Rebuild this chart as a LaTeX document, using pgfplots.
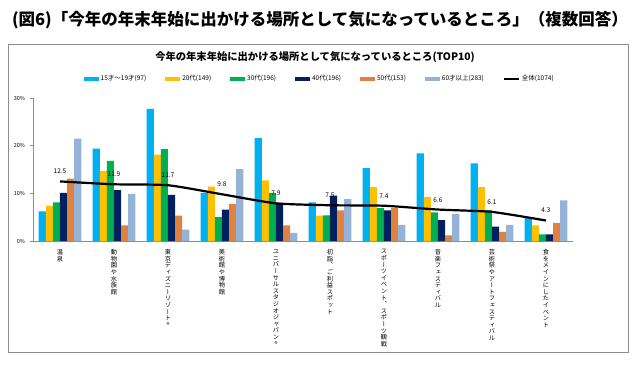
\documentclass[border=0pt]{standalone}
\usepackage{fontspec}
\setmainfont{Noto Sans CJK JP}
\newfontfamily\vjp[RawFeature=+vert]{Noto Sans CJK JP}
\usepackage{pgfplots}
\pgfplotsset{compat=1.18}
\definecolor{cA}{HTML}{00B0F0}
\definecolor{cB}{HTML}{FFC000}
\definecolor{cC}{HTML}{00B050}
\definecolor{cD}{HTML}{002060}
\definecolor{cE}{HTML}{E0823F}
\definecolor{cF}{HTML}{95B3D7}
\definecolor{axg}{HTML}{8C8C8C}
\makeatletter
\def\tate#1{\vtop{\baselineskip=6.6pt\lineskiplimit=-20pt\tate@i#1\relax}}
\def\tate@i#1{\ifx#1\relax\else\hbox to 7pt{\hss#1\hss}\expandafter\tate@i\fi}
\makeatother
\pgfplotsset{
  barimg/.style={legend image code/.code={\fill[##1] (0pt,-2pt) rectangle (15pt,2pt);}},
}
\begin{document}
\begin{tikzpicture}[x=1pt,y=1pt]
\path[use as bounding box] (0,0) rectangle (643,365);
\node[font=\fontsize{16.5}{18}\selectfont\bfseries] at (320,345) {(図6)「今年の年末年始に出かける場所として気になっているところ」（複数回答）};
\draw[axg, line width=0.8pt] (8,13) rectangle (628,321);
\node[font=\fontsize{10.3}{12}\selectfont\bfseries] at (315,308) {今年の年末年始に出かける場所として気になっているところ(TOP10)};
\begin{axis}[
  at={(33pt,124pt)}, anchor=south west,
  scale only axis, width=540pt, height=143pt,
  xmin=-0.5, xmax=9.5, ymin=0, ymax=30,
  axis x line*=bottom, axis y line*=left,
  axis line style={axg, line width=0.6pt},
  tick align=outside,
  ytick={0,10,20,30},
  yticklabel={\pgfmathprintnumber{\tick}\%},
  /pgf/number format/assume math mode=true,
  yticklabel style={font=\fontsize{5.5}{6}\selectfont, xshift=-1.5pt},
  major tick length=3pt,
  y tick style={axg, line width=0.6pt},
  xtick={0,...,9},
  x tick style={draw=none},
  minor xtick={-0.5,0.5,...,9.5},
  minor x tick style={axg, line width=0.6pt},
  minor tick length=4pt,
  xticklabels={{\tate{温泉}},{\tate{動物園や水族館}},{\tate{東京ディズニーリゾート®}},{\tate{美術館や博物館}},{\tate{ユニバーサルスタジオジャパン®}},{\tate{初詣、ご利益スポット}},{\tate{スポーツイベント、スポーツ観戦}},{\tate{音楽フェスティバル}},{\tate{芸術祭やアートフェスティバル}},{\tate{食をメインにしたイベント}}},
  xticklabel style={anchor=north, font=\vjp\fontsize{6.2}{6.6}\selectfont, yshift=-2pt},
  legend columns=7,
  legend style={at={(0.531,1.133)}, anchor=center, draw=none, fill=none,
    font=\fontsize{6.5}{7}\selectfont, /tikz/every even column/.append style={column sep=17pt}},
  legend cell align=left,
]
\addplot[ybar, bar width=7.1pt, bar shift=-17.75pt, fill=cA, draw=none, barimg] coordinates {(0,6.2)(1,19.4)(2,27.7)(3,10.1)(4,21.6)(5,8.1)(6,15.3)(7,18.4)(8,16.3)(9,4.9)};
\addlegendentry{15才～19才(97)}
\addplot[ybar, bar width=7.1pt, bar shift=-10.65pt, fill=cB, draw=none, barimg] coordinates {(0,7.4)(1,14.7)(2,18.1)(3,11.4)(4,12.7)(5,5.3)(6,11.3)(7,9.2)(8,11.3)(9,3.3)};
\addlegendentry{20代(149)}
\addplot[ybar, bar width=7.1pt, bar shift=-3.55pt, fill=cC, draw=none, barimg] coordinates {(0,8.1)(1,16.8)(2,19.3)(3,5.0)(4,10.1)(5,5.4)(6,6.9)(7,6.0)(8,6.5)(9,1.4)};
\addlegendentry{30代(196)}
\addplot[ybar, bar width=7.1pt, bar shift=3.55pt, fill=cD, draw=none, barimg] coordinates {(0,10.1)(1,10.7)(2,9.7)(3,6.6)(4,8.0)(5,9.5)(6,6.4)(7,4.4)(8,3.0)(9,1.4)};
\addlegendentry{40代(196)}
\addplot[ybar, bar width=7.1pt, bar shift=10.65pt, fill=cE, draw=none, barimg] coordinates {(0,13.1)(1,3.3)(2,5.3)(3,7.8)(4,3.3)(5,6.4)(6,6.9)(7,1.2)(8,1.9)(9,3.8)};
\addlegendentry{50代(153)}
\addplot[ybar, bar width=7.1pt, bar shift=17.75pt, fill=cF, draw=none, barimg] coordinates {(0,21.5)(1,9.9)(2,2.4)(3,15.1)(4,1.7)(5,8.8)(6,3.4)(7,5.7)(8,3.4)(9,8.5)};
\addlegendentry{60才以上(283)}
\addplot[black, line width=2.2pt, smooth, tension=0.35,
  nodes near coords, point meta=y,
  every node near coord/.style={font=\fontsize{6.5}{7}\selectfont, black, yshift=3pt},
  legend image code/.code={\draw[black, line width=2pt] (0pt,0pt) -- (15pt,0pt);}]
  coordinates {(0,12.5)(1,11.9)(2,11.7)(3,9.8)(4,7.9)(5,7.5)(6,7.4)(7,6.6)(8,6.1)(9,4.3)};
\addlegendentry{全体(1074)}
\end{axis}
\end{tikzpicture}
\end{document}
